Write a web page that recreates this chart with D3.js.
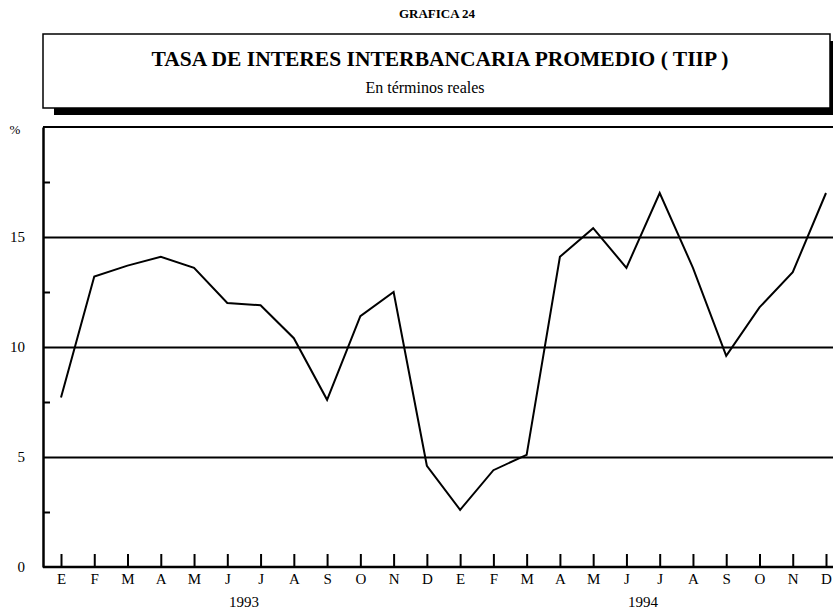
<!DOCTYPE html>
<html lang="es">
<head>
  <meta charset="UTF-8">
  <title>Grafica 24 - TIIP</title>
  <style>
    body { margin: 0; background: #ffffff; }
    svg { display: block; font-family: "Liberation Serif", "Times New Roman", serif; }
    .axis path, .axis line { stroke: #000000; }
  </style>
</head>
<body>
<svg id="graph" width="833" height="609"></svg>

<script src="https://d3js.org/d3.v7.min.js"></script>
<script>
  "use strict";

  // datos
  var months = ["E","F","M","A","M","J","J","A","S","O","N","D",
                "E","F","M","A","M","J","J","A","S","O","N","D"];
  var years = ["1993", "1994"];
  var tiip = [7.7, 13.2, 13.7, 14.1, 13.6, 12.0, 11.9, 10.4, 7.6, 11.4, 12.5, 4.6,
              2.6, 4.4, 5.1, 14.1, 15.4, 13.6, 17.0, 13.6, 9.6, 11.8, 13.4, 17.0];
  var yTicks = [0, 5, 10, 15];
  var yMinor = [2.5, 7.5, 12.5, 17.5];

  var serif = "'Liberation Serif', 'Times New Roman', serif";
  var svg = d3.select("#graph");
  var plotLeft = 43, plotRight = 833, plotTop = 127, plotBottom = 567;

  var x = d3.scaleLinear().domain([0, months.length - 1]).range([61, 826]);
  var y = d3.scaleLinear().domain([0, 20]).range([plotBottom, plotTop]);

  // cabecera
  svg.append("text")
    .attr("x", 437).attr("y", 18)
    .attr("text-anchor", "middle")
    .style("font-weight", "bold").style("font-size", "13px")
    .text("GRAFICA 24");

  svg.append("rect")
    .attr("x", 54).attr("y", 41).attr("width", 787).attr("height", 74)
    .attr("fill", "#000000");
  svg.append("rect")
    .attr("x", 43).attr("y", 34).attr("width", 787).attr("height", 74)
    .attr("fill", "#ffffff").attr("stroke", "#000000").attr("stroke-width", 1.5);

  svg.append("text")
    .attr("x", 440).attr("y", 66)
    .attr("text-anchor", "middle")
    .style("font-weight", "bold").style("font-size", "21.5px")
    .text("TASA DE INTERES INTERBANCARIA PROMEDIO ( TIIP )");

  svg.append("text")
    .attr("x", 425).attr("y", 93)
    .attr("text-anchor", "middle")
    .style("font-size", "16px")
    .text("En términos reales");

  // area del grafico
  svg.append("line")
    .attr("x1", plotLeft).attr("x2", plotRight).attr("y1", plotTop).attr("y2", plotTop)
    .attr("stroke", "#000000").attr("stroke-width", 2);

  // lineas horizontales
  svg.append("g")
    .attr("class", "axis")
    .attr("transform", "translate(" + plotLeft + ",0)")
    .call(d3.axisRight(y).tickValues(yTicks.filter(function(d){ return d > 0; }))
      .tickSize(plotRight - plotLeft).tickFormat(""))
    .call(function(g){ g.select(".domain").remove(); })
    .selectAll("line").attr("stroke-width", 2);

  // marcas menores
  svg.append("g")
    .attr("class", "axis")
    .attr("transform", "translate(" + plotLeft + ",0)")
    .call(d3.axisRight(y).tickValues(yMinor).tickSize(7).tickFormat(""))
    .call(function(g){ g.select(".domain").remove(); })
    .selectAll("line").attr("stroke-width", 2);

  // eje y
  svg.append("g")
    .attr("class", "axis")
    .attr("transform", "translate(" + plotLeft + ",0)")
    .attr("font-family", serif).attr("font-size", 15)
    .call(d3.axisLeft(y).tickValues(yTicks).tickSize(0).tickPadding(18))
    .call(function(g){
      g.attr("font-family", serif).attr("font-size", 15);
      g.select(".domain").attr("stroke-width", 2.5);
    });

  svg.append("text")
    .attr("x", 15).attr("y", 134)
    .attr("text-anchor", "middle")
    .style("font-size", "13px")
    .text("%");

  // eje x
  svg.append("g")
    .attr("class", "axis")
    .attr("transform", "translate(0," + plotBottom + ")")
    .call(d3.axisBottom(x).tickValues(d3.range(months.length))
      .tickFormat(function(d){ return months[d]; })
      .tickSizeInner(-13).tickSizeOuter(0).tickPadding(6))
    .call(function(g){
      g.attr("font-family", serif).attr("font-size", 15);
      g.select(".domain").attr("d", "M" + plotLeft + ",0H" + plotRight).attr("stroke-width", 2.5);
      g.selectAll(".tick line").attr("stroke-width", 2);
    });

  svg.selectAll(".year")
    .data(years)
    .enter()
    .append("text")
    .attr("class", "year")
    .attr("x", function(d, i){ return (x(i * 12) + x(i * 12 + 11)) / 2; })
    .attr("y", 607)
    .attr("text-anchor", "middle")
    .style("font-size", "15px")
    .text(function(d){ return d; });

  // serie
  var line = d3.line()
    .x(function(d, i){ return x(i); })
    .y(function(d){ return y(d); });

  svg.append("path")
    .datum(tiip)
    .attr("fill", "none")
    .attr("stroke", "#000000")
    .attr("stroke-width", 2)
    .attr("stroke-linejoin", "miter")
    .attr("d", line);
</script>
</body>
</html>
